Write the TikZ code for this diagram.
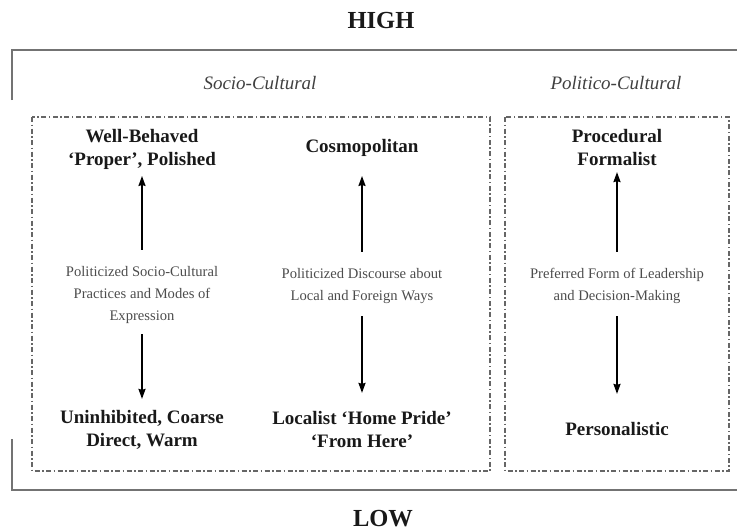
\documentclass[tikz,border=0pt]{standalone}
\usepackage{fontspec}
\setmainfont{Liberation Serif}
\usetikzlibrary{arrows.meta}
\tikzset{
  level/.style={font=\fontsize{24.5}{29}\selectfont\bfseries, text=black!90, inner sep=0pt, anchor=base},
  head/.style={font=\fontsize{19}{23}\selectfont\itshape, text=black!75, inner sep=0pt, anchor=base},
  pole/.style={font=\fontsize{19}{23}\selectfont\bfseries, align=center, text=black!90, inner sep=0pt, anchor=base},
  axis/.style={font=\fontsize{14.6}{22}\selectfont, align=center, text=black!70, inner sep=0pt, anchor=base},
  frame/.style={draw=black!55, line width=1.6pt},
  zone/.style={draw=black!60, line width=1.2pt, dash pattern=on 5pt off 2.5pt on 1.5pt off 2.5pt},
}
\begin{document}
\begin{tikzpicture}[x=1pt,y=-1pt,>={Stealth[length=10pt,width=7pt,inset=1pt]},line width=1.8pt]
  \useasboundingbox (0,0) rectangle (737,531);
  % high / low frame
  \node[level] (high) at (381,28) {HIGH};
  \node[level] (low) at (383,526) {LOW};
  \draw[frame] (12,100) -- (12,50) -- (737,50);
  \draw[frame] (12,439) -- (12,490) -- (737,490);
  % the two zones
  \node[head] (socio) at (260,89) {Socio-Cultural};
  \node[head] (politico) at (616,89) {Politico-Cultural};
  \draw[zone] (32,117) rectangle (490,471);
  \draw[zone] (505,117) rectangle (729,471);
  % top poles
  \node[pole] (wb) at (142,165) {Well-Behaved\\`Proper', Polished};
  \node[pole] (cosmo) at (362,152) {Cosmopolitan};
  \node[pole] (proc) at (617,165) {Procedural\\Formalist};
  % dimensions
  \node[axis] (expr) at (142,320) {Politicized Socio-Cultural\\Practices and Modes of\\Expression};
  \node[axis] (disc) at (362,300) {Politicized Discourse about\\Local and Foreign Ways};
  \node[axis] (lead) at (617,300) {Preferred Form of Leadership\\and Decision-Making};
  % bottom poles
  \node[pole] (coarse) at (142,446) {Uninhibited, Coarse\\Direct, Warm};
  \node[pole] (local) at (362,447) {Localist `Home Pride'\\`From Here'};
  \node[pole] (pers) at (617,435) {Personalistic};
  \begin{scope}[->]
    \draw[shorten <=15pt, shorten >=6pt] (expr) -- (wb);
    \draw[shorten <=10pt, shorten >=10pt] (expr) -- (coarse);
    \draw[shorten <=15pt, shorten >=19pt] (disc) -- (cosmo);
    \draw[shorten <=12pt, shorten >=17pt] (disc) -- (local);
    \draw[shorten <=15pt, shorten >=6pt] (lead) -- (proc);
    \draw[shorten <=12pt, shorten >=27pt] (lead) -- (pers);
  \end{scope}
\end{tikzpicture}
\end{document}
